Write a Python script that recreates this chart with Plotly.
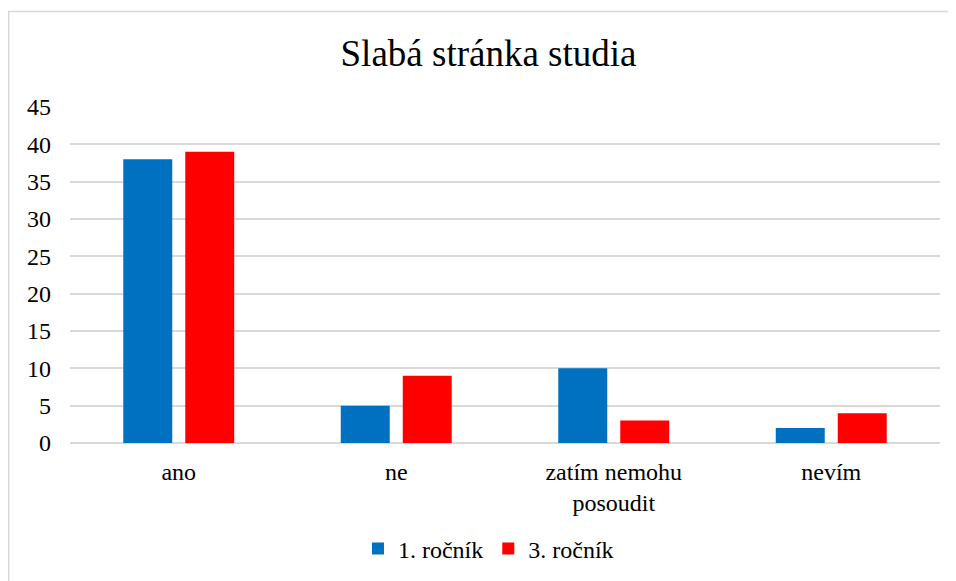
import plotly.graph_objects as go

categories = ["ano", "ne", "zatím nemohu<br>posoudit", "nevím"]
series_names = ["1. ročník", "3. ročník"]
values_1 = [38, 5, 10, 2]
values_3 = [39, 9, 3, 4]
colors = ["#0070C0", "#FF0000"]
y_ticks = [0, 5, 10, 15, 20, 25, 30, 35, 40, 45]

W, H = 948, 573
L, R, T, B = 62, 16, 99, 138
FONT = "Liberation Serif"

fig = go.Figure()
for name, vals, c in zip(series_names, [values_1, values_3], colors):
    fig.add_trace(go.Bar(x=categories, y=vals, name=name, marker=dict(color=c, line=dict(width=0))))

pw = W - L - R
ph = H - T - B

fig.update_layout(
    width=W, height=H,
    margin=dict(l=L, r=R, t=T, b=B, autoexpand=False),
    paper_bgcolor="white", plot_bgcolor="white",
    font=dict(family=FONT, color="#000000", size=24),
    title=dict(text="Slabá stránka studia", x=480.5 / W, xref="container", xanchor="center",
               y=1 - 45 / H, yref="container", yanchor="middle",
               font=dict(family=FONT, size=37, color="#000000")),
    barmode="group", bargap=0.43, bargroupgap=0.21,
    showlegend=True,
    legend=dict(orientation="h", x=0.481, xanchor="center", y=-(541 - (H - B)) / ph, yanchor="middle",
                font=dict(family=FONT, size=24), itemclick=False),
    xaxis=dict(showgrid=False, showline=False, ticks="", tickfont=dict(family=FONT, size=24),
               ticklabelstandoff=12),
    yaxis=dict(range=[0, 45], tickvals=y_ticks, showgrid=True, gridcolor="#d9d9d9", gridwidth=1.5,
               zeroline=True, zerolinecolor="#d9d9d9", zerolinewidth=1.5, showline=False,
               tickfont=dict(family=FONT, size=24), ticklabelstandoff=18),
)
# chart border (light gray frame)
fig.add_shape(type="rect", xref="paper", yref="paper",
              x0=(0.75 - L) / pw, x1=(W + 10 - L) / pw,
              y0=(H - B - (H + 10)) / ph, y1=(H - B - 3.5) / ph,
              line=dict(color="#d9d9d9", width=1.5), fillcolor="rgba(0,0,0,0)", layer="below")

post = ("var gd=document.getElementById('{plot_id}');"
        "if(document.fonts&&document.fonts.load){document.fonts.load('24px \"Liberation Serif\"')"
        ".then(function(){Plotly.redraw(gd);});}")

fig.write_html("out.html", post_script=post)
